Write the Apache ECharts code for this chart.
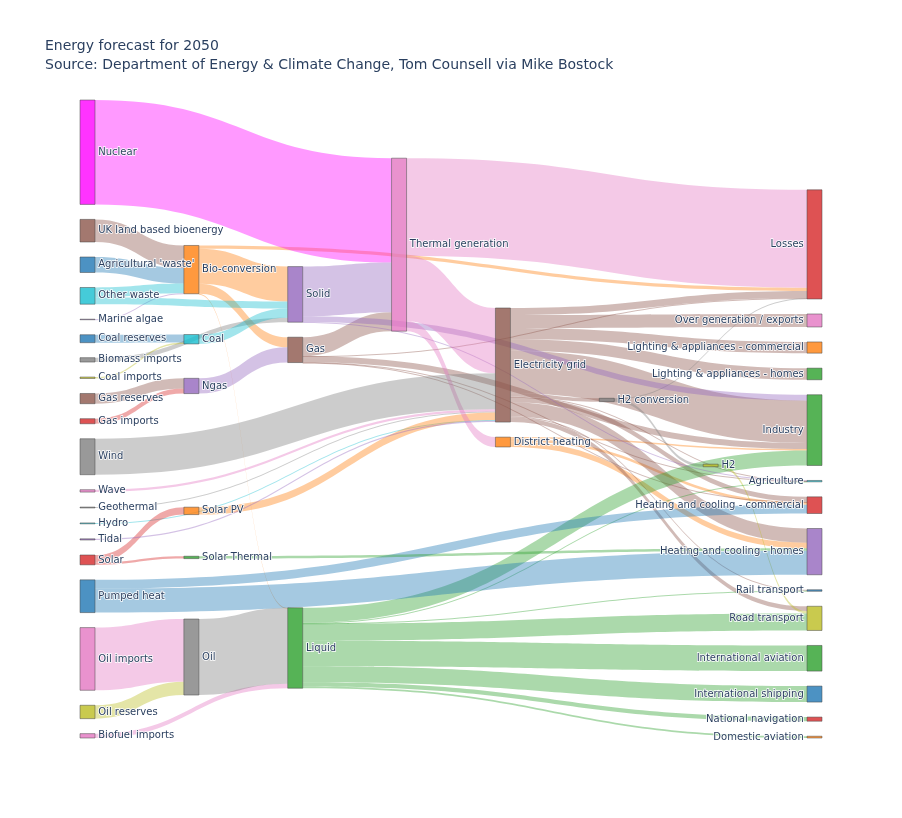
<!DOCTYPE html>
<html>
<head>
<meta charset="utf-8">
<script src="https://cdn.jsdelivr.net/npm/echarts@6/dist/echarts.min.js"></script>
<style>
  html, body { margin: 0; padding: 0; background: #fff; }
  #main { width: 902px; height: 818px; }
</style>
</head>
<body>
<div id="main"></div>
<script>
// node labels, in the dataset order (colours cycle through the palette by this index)
var nodeLabels = [
  "Agricultural 'waste'", 'Bio-conversion', 'Liquid', 'Losses', 'Solid', 'Gas',
  'Biofuel imports', 'Biomass imports', 'Coal imports', 'Coal', 'Coal reserves',
  'District heating', 'Industry', 'Heating and cooling - commercial',
  'Heating and cooling - homes', 'Electricity grid', 'Over generation / exports',
  'H2 conversion', 'Road transport', 'Agriculture', 'Rail transport',
  'Lighting & appliances - commercial', 'Lighting & appliances - homes',
  'Gas imports', 'Ngas', 'Gas reserves', 'Thermal generation', 'Geothermal', 'H2',
  'Hydro', 'International shipping', 'Domestic aviation', 'International aviation',
  'National navigation', 'Marine algae', 'Nuclear', 'Oil imports', 'Oil',
  'Oil reserves', 'Other waste', 'Pumped heat', 'Solar PV', 'Solar Thermal', 'Solar',
  'Tidal', 'UK land based bioenergy', 'Wave', 'Wind'
];

// order the nodes are handed to the layout (top to bottom within each column)
var displayOrder = [
  'Nuclear', 'UK land based bioenergy', "Agricultural 'waste'", 'Other waste',
  'Marine algae', 'Biomass imports', 'Coal reserves', 'Coal imports', 'Gas reserves',
  'Gas imports', 'Wind', 'Wave', 'Geothermal', 'Hydro', 'Tidal', 'Solar', 'Pumped heat',
  'Oil imports', 'Oil reserves', 'Biofuel imports',
  'Bio-conversion', 'Coal', 'Ngas', 'Solar PV', 'Solar Thermal', 'Oil',
  'Solid', 'Gas', 'Liquid',
  'Thermal generation',
  'Electricity grid', 'District heating',
  'H2 conversion',
  'H2',
  'Losses', 'Over generation / exports', 'Lighting & appliances - commercial',
  'Lighting & appliances - homes', 'Industry', 'Agriculture',
  'Heating and cooling - commercial', 'Heating and cooling - homes', 'Rail transport',
  'Road transport', 'International aviation', 'International shipping',
  'National navigation', 'Domestic aviation'
];

// links: [source index, target index, value] (TWh)
var links = [
  [0, 1, 124.729], [1, 2, 0.597], [1, 3, 26.862], [1, 4, 280.322], [1, 5, 81.144],
  [6, 2, 35], [7, 4, 35], [8, 9, 11.606], [10, 9, 63.965], [9, 4, 75.571],
  [11, 12, 10.639], [11, 13, 22.505], [11, 14, 46.184], [15, 16, 104.453],
  [15, 14, 113.726], [15, 17, 27.14], [15, 12, 342.165], [15, 18, 37.797],
  [15, 19, 4.412], [15, 13, 40.858], [15, 3, 56.691], [15, 20, 7.863],
  [15, 21, 90.008], [15, 22, 93.494], [23, 24, 40.719], [25, 24, 82.233],
  [5, 13, 0.129], [5, 3, 1.401], [5, 26, 151.891], [5, 19, 2.096], [5, 12, 48.58],
  [27, 15, 7.013], [17, 28, 20.897], [17, 3, 6.242], [28, 18, 20.897], [29, 15, 6.995],
  [2, 12, 121.066], [2, 30, 128.69], [2, 18, 135.835], [2, 31, 14.458],
  [2, 32, 206.267], [2, 19, 3.64], [2, 33, 33.218], [2, 20, 4.413], [34, 1, 4.375],
  [24, 5, 122.952], [35, 26, 839.978], [36, 37, 504.287], [38, 37, 107.703],
  [37, 2, 611.99], [39, 4, 56.587], [39, 1, 77.81], [40, 14, 193.026],
  [40, 13, 70.672], [41, 15, 59.901], [42, 14, 19.263], [43, 42, 19.263],
  [43, 41, 59.901], [4, 19, 0.882], [4, 26, 400.12], [4, 12, 46.477],
  [26, 15, 525.531], [26, 3, 787.129], [26, 11, 79.329], [44, 15, 9.452],
  [45, 1, 182.01], [46, 15, 19.013], [47, 15, 289.366]
];

var palette = [
  [31, 119, 180], [255, 127, 14], [44, 160, 44], [214, 39, 40], [148, 103, 189],
  [140, 86, 75], [227, 119, 194], [127, 127, 127], [188, 189, 34], [23, 190, 207]
];

// nodes with no outgoing link sit in the last column and get their label on the left
var sinks = {};
nodeLabels.forEach(function (n, i) {
  var out = links.some(function (l) { return l[0] === i; });
  if (!out) sinks[n] = true;
});

function rgbOf(i) {
  if (nodeLabels[i] === 'Nuclear') return [255, 0, 255];
  return palette[i % palette.length];
}
function rgba(c, a) {
  return 'rgba(' + c[0] + ',' + c[1] + ',' + c[2] + ',' + a + ')';
}

var chartDom = document.getElementById('main');
var myChart = echarts.init(chartDom);

var nodes = displayOrder.map(function (name) {
  var i = nodeLabels.indexOf(name);
  return {
    name: name,
    itemStyle: { color: rgba(rgbOf(i), 0.8) },
    label: { position: sinks[name] ? 'left' : 'right' }
  };
});

var edges = links.map(function (l) {
  return {
    source: nodeLabels[l[0]],
    target: nodeLabels[l[1]],
    value: l[2],
    lineStyle: { color: rgba(rgbOf(l[0]), 0.4) }
  };
});

var option = {
  animation: false,
  title: {
    text: 'Energy forecast for 2050\nSource: Department of Energy & Climate Change, Tom Counsell via Mike Bostock',
    left: 45,
    top: 37,
    padding: 0,
    textStyle: {
      fontFamily: 'DejaVu Sans',
      fontSize: 14,
      fontWeight: 'normal',
      color: '#2a3f5f',
      lineHeight: 19
    }
  },
  series: [
    {
      type: 'sankey',
      left: 80,
      right: 80,
      top: 100,
      bottom: 80,
      nodeWidth: 15,
      nodeGap: 15,
      nodeAlign: 'justify',
      layoutIterations: 56,
      draggable: false,
      emphasis: { disabled: true },
      itemStyle: { borderColor: '#444', borderWidth: 0.5 },
      lineStyle: { curveness: 0.5, opacity: 1 },
      label: {
        fontFamily: 'DejaVu Sans',
        fontSize: 10,
        color: '#2a3f5f',
        textBorderColor: '#fff',
        textBorderWidth: 1.5,
        distance: 3
      },
      data: nodes,
      links: edges
    }
  ]
};

myChart.setOption(option);
</script>
</body>
</html>
